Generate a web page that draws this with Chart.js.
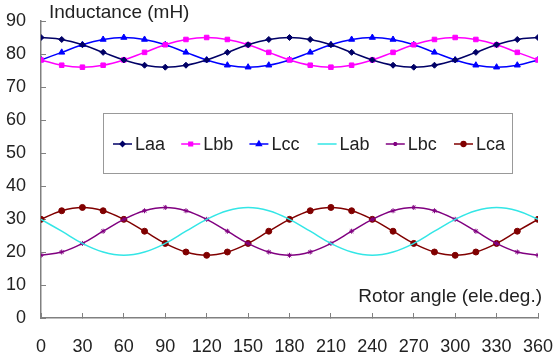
<!DOCTYPE html>
<html>
<head>
<meta charset="utf-8">
<script src="https://cdn.jsdelivr.net/npm/chart.js@4/dist/chart.umd.min.js"></script>
<style>
  html, body { margin: 0; padding: 0; background: #fff; }
  #wrap { width: 553px; height: 358px; }
</style>
</head>
<body>
<div id="wrap"><canvas id="chart"></canvas></div>
<script>
// rotor angle, 15 deg steps
const angles = [0, 15, 30, 45, 60, 75, 90, 105, 120, 135, 150, 165, 180,
                195, 210, 225, 240, 255, 270, 285, 300, 315, 330, 345, 360];
const xTicks = [0, 30, 60, 90, 120, 150, 180, 210, 240, 270, 300, 330, 360];
const yTicks = [0, 10, 20, 30, 40, 50, 60, 70, 80, 90];

// values (mH)
const Laa = [85, 84.4, 82.8, 80.5, 78.2, 76.6, 76, 76.6, 78.2, 80.5, 82.8, 84.4, 85,
             84.4, 82.8, 80.5, 78.2, 76.6, 76, 76.6, 78.2, 80.5, 82.8, 84.4, 85];
const Lbb = [78.2, 76.6, 76, 76.6, 78.2, 80.5, 82.8, 84.4, 85, 84.4, 82.8, 80.5, 78.2,
             76.6, 76, 76.6, 78.2, 80.5, 82.8, 84.4, 85, 84.4, 82.8, 80.5, 78.2];
const Lcc = [78.2, 80.5, 82.8, 84.4, 85, 84.4, 82.8, 80.5, 78.2, 76.6, 76, 76.6, 78.2,
             80.5, 82.8, 84.4, 85, 84.4, 82.8, 80.5, 78.2, 76.6, 76, 76.6, 78.2];
const Lab = [29.9, 26.3, 22.6, 20, 19, 20, 22.6, 26.3, 29.9, 32.5, 33.5, 32.5, 29.9,
             26.3, 22.6, 20, 19, 20, 22.6, 26.3, 29.9, 32.5, 33.5, 32.5, 29.9];
const Lbc = [19, 20, 22.6, 26.3, 29.9, 32.5, 33.5, 32.5, 29.9, 26.3, 22.6, 20, 19,
             20, 22.6, 26.3, 29.9, 32.5, 33.5, 32.5, 29.9, 26.3, 22.6, 20, 19];
const Lca = [29.9, 32.5, 33.5, 32.5, 29.9, 26.3, 22.6, 20, 19, 20, 22.6, 26.3, 29.9,
             32.5, 33.5, 32.5, 29.9, 26.3, 22.6, 20, 19, 20, 22.6, 26.3, 29.9];

const seriesNames = ["Laa", "Lbb", "Lcc", "Lab", "Lbc", "Lca"];
const seriesData = [Laa, Lbb, Lcc, Lab, Lbc, Lca];
const colors = ["#000066", "#ff00ff", "#0000ff", "#33e6e6", "#800080", "#800000"];
const markers = ["rectRot", "rect", "triangle", false, "star", "circle"];
const markerSize = [3, 3.2, 3.5, 0, 2.5, 3];

const FONT = "Liberation Sans, Arial, sans-serif";

function pts(vals) {
  return vals.map((v, i) => ({ x: angles[i], y: v }));
}

const datasets = seriesNames.map((name, k) => ({
  label: name,
  data: pts(seriesData[k]),
  borderColor: colors[k],
  backgroundColor: colors[k],
  borderWidth: 1.5,
  tension: 0.4,
  pointStyle: markers[k],
  pointRadius: markerSize[k],
  pointBorderWidth: 1,
  pointBorderColor: colors[k],
  pointBackgroundColor: colors[k]
}));

// axis titles and the boxed legend in the middle of the plot
const extras = {
  id: "extras",
  afterDraw(chart) {
    const ctx = chart.ctx;
    ctx.save();
    ctx.fillStyle = "#222";
    ctx.font = "19px " + FONT;
    ctx.textBaseline = "middle";
    ctx.textAlign = "left";
    ctx.fillText("Inductance (mH)", 49, 13);
    ctx.textAlign = "right";
    ctx.fillText("Rotor angle (ele.deg.)", 542, 297);

    // legend box
    ctx.strokeStyle = "#999";
    ctx.lineWidth = 1;
    ctx.fillStyle = "#fff";
    ctx.fillRect(103.5, 113.5, 409, 60);
    ctx.strokeRect(103.5, 113.5, 409, 60);
    ctx.font = "18px " + FONT;
    ctx.textAlign = "left";
    const y = 144;
    seriesNames.forEach((name, k) => {
      const x0 = 113 + k * 68.2;
      ctx.strokeStyle = colors[k];
      ctx.lineWidth = 1.5;
      ctx.beginPath();
      ctx.moveTo(x0, y);
      ctx.lineTo(x0 + 19, y);
      ctx.stroke();
      if (markers[k]) {
        ctx.fillStyle = colors[k];
        Chart.helpers.drawPoint(ctx, {
          pointStyle: markers[k], radius: markerSize[k] * 0.8, rotation: 0, borderWidth: 1
        }, x0 + 9.5, y);
      }
      ctx.fillStyle = "#222";
      ctx.fillText(name, x0 + 22, y + 1);
    });
    ctx.restore();
  }
};

new Chart(document.getElementById("chart"), {
  type: "line",
  data: { datasets },
  options: {
    responsive: true,
    maintainAspectRatio: false,
    animation: false,
    layout: { autoPadding: false, padding: { top: 21, right: 15, left: 0, bottom: 0 } },
    plugins: { legend: { display: false }, tooltip: { enabled: false } },
    scales: {
      x: {
        type: "linear",
        min: 0, max: 360,
        afterFit: s => { s.height = 40; s.paddingLeft = 0; s.paddingRight = 0; },
        afterBuildTicks: s => { s.ticks = xTicks.map(v => ({ value: v })); },
        // negative tick length -> tick marks point into the plot
        grid: { drawOnChartArea: false, color: "#808080", tickLength: -5 },
        border: { color: "#808080", width: 1.5 },
        ticks: { color: "#222", font: { family: FONT, size: 18 }, padding: 23, maxRotation: 0 }
      },
      y: {
        min: 0, max: 90,
        afterFit: s => { s.width = 41; s.paddingTop = 0; s.paddingBottom = 0; },
        afterBuildTicks: s => { s.ticks = yTicks.map(v => ({ value: v })); },
        grid: { drawOnChartArea: false, color: "#808080", tickLength: -5 },
        border: { color: "#808080", width: 1.5 },
        ticks: { color: "#222", font: { family: FONT, size: 18 }, padding: 20 }
      }
    }
  },
  plugins: [extras]
});
</script>
</body>
</html>
